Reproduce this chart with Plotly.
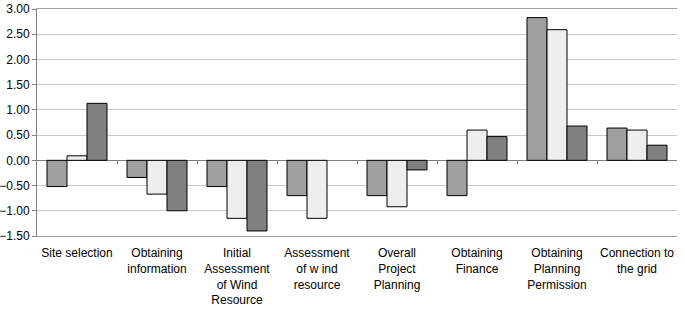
import plotly.graph_objects as go

categories = ["Site selection", "Obtaining<br>information", "Initial<br>Assessment<br>of Wind<br>Resource",
              "Assessment<br>of w ind<br>resource", "Overall<br>Project<br>Planning", "Obtaining<br>Finance",
              "Obtaining<br>Planning<br>Permission", "Connection to<br>the grid"]
series1 = [-0.52, -0.34, -0.52, -0.70, -0.70, -0.70, 2.83, 0.64]
series2 = [0.09, -0.67, -1.15, -1.15, -0.92, 0.60, 2.59, 0.60]
series3 = [1.13, -1.00, -1.40, None, -0.19, 0.47, 0.68, 0.30]
series_colors = ["#9f9f9f", "#eeeeee", "#808080"]
y_ticks = [-1.5, -1.0, -0.5, 0.0, 0.5, 1.0, 1.5, 2.0, 2.5, 3.0]

fig = go.Figure()
for vals, col in zip([series1, series2, series3], series_colors):
    fig.add_trace(go.Bar(x=categories, y=vals, marker=dict(color=col, line=dict(color="#000000", width=1)),
                         showlegend=False))

# invisible helper trace so the overlay axis exists
fig.add_trace(go.Scatter(x=[0], y=[0], xaxis="x2", mode="markers", marker=dict(opacity=0),
                         showlegend=False, hoverinfo="skip"))

n = len(categories)
fig.update_layout(
    width=685, height=315,
    margin=dict(l=37, r=8, t=8, b=78),
    paper_bgcolor="white", plot_bgcolor="white",
    barmode="group", bargap=0.25, bargroupgap=0,
    font=dict(family="Liberation Sans, Arial, sans-serif", size=12, color="#000000"),
    xaxis=dict(type="category", showgrid=False, zeroline=False, showline=True, linecolor="#a0a0a0",
               linewidth=1, mirror=True, ticks="", tickfont=dict(size=12), ticklabelstandoff=6),
    xaxis2=dict(overlaying="x", anchor="free", position=(0 - y_ticks[0]) / (y_ticks[-1] - y_ticks[0]),
                range=[-0.5, n - 0.5], tickvals=[i + 0.5 for i in range(n - 1)], ticks="outside", ticklen=3,
                tickcolor="#808080", showticklabels=False, showgrid=False, zeroline=False, showline=False),
    yaxis=dict(range=[y_ticks[0], y_ticks[-1]], tickvals=y_ticks, tickformat=".2f", showgrid=True,
               gridcolor="#c8c8c8", gridwidth=1, zeroline=True, zerolinecolor="#808080", zerolinewidth=1,
               showline=True, linecolor="#808080", linewidth=1, ticks="outside", ticklen=4,
               tickcolor="#808080", tickfont=dict(size=12), domain=[0, 1], automargin=False,
               ticklabeloverflow="allow"),
)

fig.write_html("out.html")
